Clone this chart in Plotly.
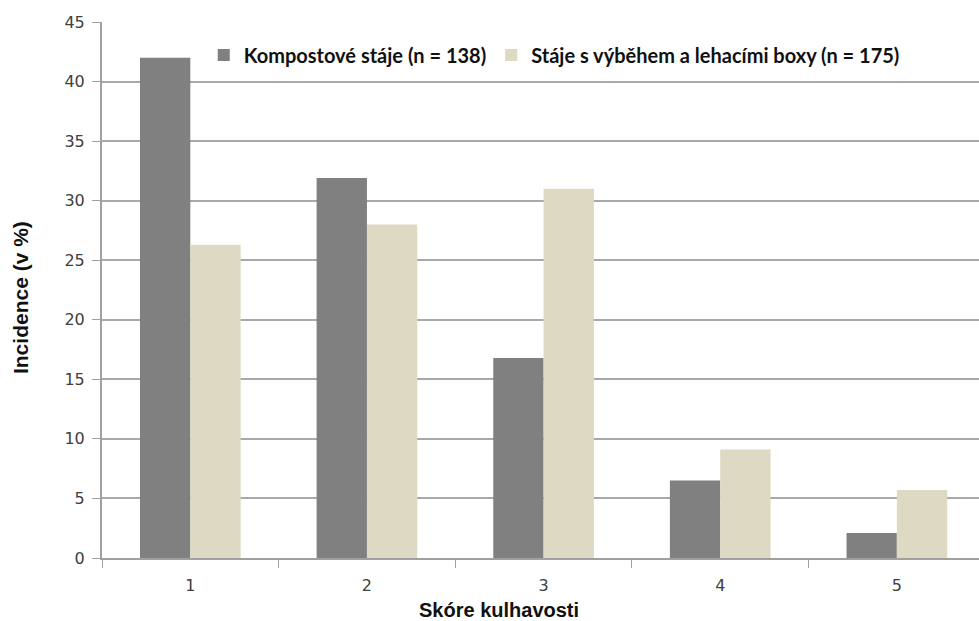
import plotly.graph_objects as go

categories = ["1", "2", "3", "4", "5"]
kompost = [42.0, 31.9, 16.8, 6.5, 2.1]
vybeh = [26.3, 28.0, 31.0, 9.1, 5.7]
series_names = ["Kompostové stáje (n = 138)", "Stáje s výběhem a lehacími boxy (n = 175)"]
y_ticks = [0, 5, 10, 15, 20, 25, 30, 35, 40, 45]
x_title = "Skóre kulhavosti"
y_title = "Incidence (v %)"

fig = go.Figure()
fig.add_trace(go.Bar(x=categories, y=kompost, name="<b>" + series_names[0] + "</b>",
                     marker=dict(color="#808080", line=dict(width=0))))
fig.add_trace(go.Bar(x=categories, y=vybeh, name="<b>" + series_names[1] + "</b>",
                     marker=dict(color="#DDD9C3", line=dict(width=0))))

fig.update_layout(
    width=979, height=621,
    margin=dict(l=102, r=0, t=22, b=63, autoexpand=False),
    paper_bgcolor="white", plot_bgcolor="white",
    barmode="group", bargap=0.43, bargroupgap=0,
    showlegend=True,
    legend=dict(orientation="h", x=0.116, y=0.975, xanchor="left", yanchor="top",
                font=dict(family="Lato", size=20, color="#111111"),
                bgcolor="rgba(0,0,0,0)", itemwidth=30, traceorder="normal"),
    xaxis=dict(type="category", range=[-0.5, 4.465], tickson="boundaries",
               automargin=False,
               ticks="outside", ticklen=8, tickcolor="#a0a0a0", tickwidth=1,
               ticklabelstandoff=12,
               showline=True, linecolor="#a0a0a0", linewidth=2,
               showgrid=False,
               tickfont=dict(family="DejaVu Sans", size=16, color="#404040")),
    yaxis=dict(range=[0, 45], tickvals=y_ticks, ticks="outside", ticklen=8,
               automargin=False, ticklabelstandoff=4,
               tickcolor="#a0a0a0", showline=True, linecolor="#a0a0a0", linewidth=2,
               showgrid=True, gridcolor="#a8a8a8", gridwidth=2, zeroline=False,
               tickfont=dict(family="DejaVu Sans", size=16, color="#404040")),
    annotations=[
        dict(text="<b>" + x_title + "</b>", xref="paper", yref="paper",
             x=0.4527, y=-0.097, xanchor="center", yanchor="middle", showarrow=False,
             font=dict(family="Liberation Sans", size=20, color="#111111")),
        dict(text="<b>" + y_title + "</b>", xref="paper", yref="paper",
             x=-0.0935, y=0.485, xanchor="center", yanchor="middle", showarrow=False,
             textangle=-90,
             font=dict(family="Liberation Sans", size=21, color="#111111")),
    ],
)

fig.write_html("out.html", config={"displayModeBar": False},
               post_script="document.body.style.margin='0';")
